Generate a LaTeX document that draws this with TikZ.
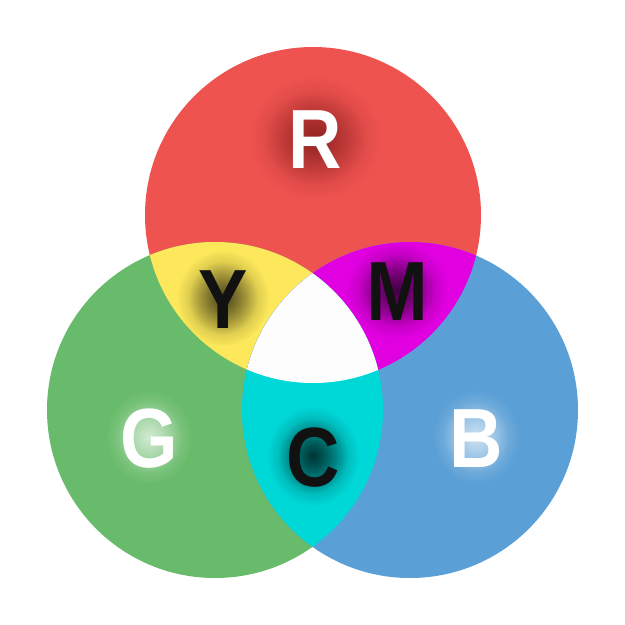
\documentclass[tikz,border=0pt]{standalone}
\usepackage{fontspec}
\setmainfont[FakeStretch=0.88]{Liberation Sans}
\usetikzlibrary{fadings}
\definecolor{cR}{HTML}{EF5350}
\definecolor{cG}{HTML}{68BB6A}
\definecolor{cB}{HTML}{5A9FD6}
\definecolor{cY}{HTML}{FCE85A}
\definecolor{cM}{HTML}{E000E0}
\definecolor{cC}{HTML}{00D8D8}
\definecolor{cW}{HTML}{FDFDFD}
\definecolor{ink}{HTML}{111111}
\tikzfading[name=glowfade, inner color=transparent!0, outer color=transparent!100]
\tikzset{
  lettr/.style={inner sep=0pt, anchor=base, font=\fontsize{84}{84}\selectfont\bfseries},
}
\newcommand{\glowletter}[9]{% name, x, y, letter, text colour, glow colour, halo opacity, halo rx, halo ry
  \fill[#6, path fading=glowfade, opacity=#7] (#2,#3-30) ellipse (#8 and #9);
  \fill[#6, path fading=glowfade, opacity=#7] (#2,#3-30) ellipse (#8*0.75 and #9*0.75);
  \node[lettr, text=#5] (#1) at (#2,#3) {#4};
}
\begin{document}
\begin{tikzpicture}[x=1pt,y=-1pt]
\useasboundingbox (0,0) rectangle (625,625);
\fill[white] (0,0) rectangle (625,625);
\def\redc{(313,215) circle (168)}
\def\grnc{(215,410) circle (168)}
\def\bluc{(410,410) circle (168)}
\fill[cR] \redc;
\fill[cG] \grnc;
\fill[cB] \bluc;
\begin{scope}\clip \redc; \fill[cY] \grnc; \end{scope}
\begin{scope}\clip \redc; \fill[cM] \bluc; \end{scope}
\begin{scope}\clip \grnc; \fill[cC] \bluc; \end{scope}
\begin{scope}\clip \redc; \clip \grnc; \fill[cW] \bluc; \end{scope}
\glowletter{r}{315}{168}{R}{white}{black!70!red}{0.35}{66}{62}
\glowletter{y}{223}{328}{Y}{ink}{black}{0.45}{46}{48}
\glowletter{m}{397}{320}{M}{ink}{black}{0.45}{50}{48}
\glowletter{c}{313}{486}{C}{ink}{black}{0.5}{46}{50}
\glowletter{g}{149}{467}{G}{white}{white}{0.45}{44}{48}
\glowletter{b}{476}{467}{B}{white}{white}{0.45}{44}{48}
\end{tikzpicture}
\end{document}
